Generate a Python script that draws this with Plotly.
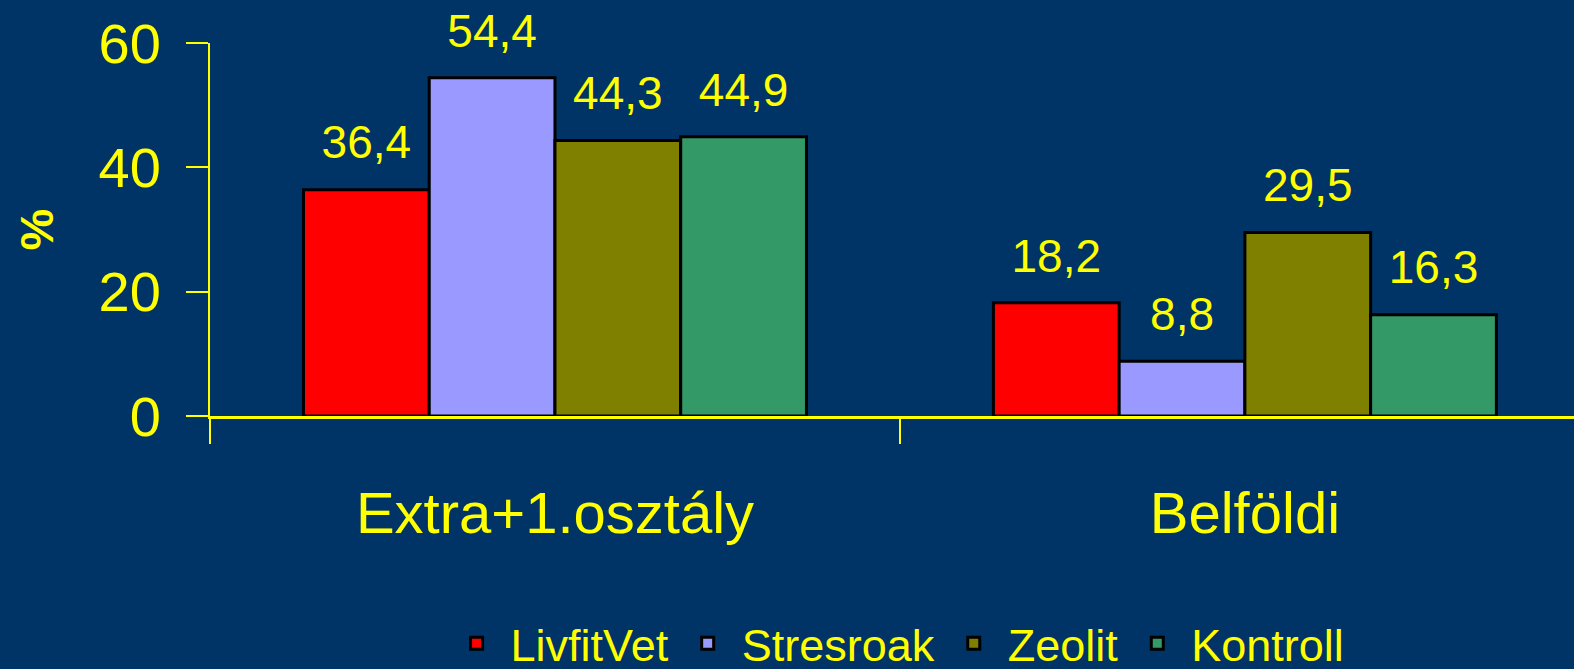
#!/usr/bin/python

import plotly
import plotly.graph_objects

categories = ["Extra+1.osztály", "Belföldi"]
seriesNames = ["LivfitVet", "Stresroak", "Zeolit", "Kontroll"]
livfitVet = [36.4, 18.2]
stresroak = [54.4, 8.8]
zeolit = [44.3, 29.5]
kontroll = [44.9, 16.3]
yTicks = [0, 20, 40, 60]

seriesValues = [livfitVet, stresroak, zeolit, kontroll]
seriesColors = ["#FF0000", "#9999FF", "#808000", "#339966"]

fontFamily = "Arial, Liberation Sans, sans-serif"
yellow = "#FFFF00"
navy = "#003366"
barGap = 0.271

def labelText(value:float)->str:
    # hungarian decimal comma
    return ("%.1f" % value).replace(".", ",")

def addBars(figure:plotly.graph_objects.Figure)->None:
    for name, values, color in zip(seriesNames, seriesValues, seriesColors):
        figure.add_bar(x=categories, y=values, name=name,
                       marker=dict(color=color, line=dict(color="black", width=3)),
                       hoverinfo="skip")

def addValueLabels(figure:plotly.graph_objects.Figure)->None:
    # scatter traces grouped like the bars, so the labels sit over each bar
    for name, values in zip(seriesNames, seriesValues):
        figure.add_scatter(x=categories, y=values, mode="markers+text",
                           text=[labelText(v) for v in values],
                           textposition="top center",
                           textfont=dict(family=fontFamily, size=46, color=yellow),
                           marker=dict(size=30, opacity=0),
                           cliponaxis=False, showlegend=False, hoverinfo="skip")

figure = plotly.graph_objects.Figure()
addBars(figure)
addValueLabels(figure)
figure.update_layout(
    width=1574, height=669,
    paper_bgcolor=navy, plot_bgcolor=navy,
    margin=dict(l=210, r=0, t=43, b=253, autoexpand=False),
    font=dict(family=fontFamily, color=yellow),
    barmode="group", bargap=barGap, bargroupgap=0,
    scattermode="group", scattergap=barGap,
    showlegend=True,
    legend=dict(orientation="h", x=0.503, xanchor="center", y=-0.61, yanchor="middle",
                font=dict(family=fontFamily, size=45, color=yellow),
                itemwidth=58, bgcolor="rgba(0,0,0,0)", traceorder="normal"),
)
figure.update_xaxes(
    # the second category runs a little past the right edge of the window
    range=[-0.5, 1.477],
    showline=True, linecolor=yellow, linewidth=2.5,
    ticks="outside", tickson="boundaries", ticklen=25, tickwidth=2, tickcolor=yellow,
    tickfont=dict(family=fontFamily, size=58, color=yellow),
    ticklabelstandoff=45, showgrid=False, zeroline=False,
)
figure.update_yaxes(
    range=[0, 60], tickvals=yTicks,
    showline=True, linecolor=yellow, linewidth=2,
    ticks="outside", ticklen=22, tickwidth=2, tickcolor=yellow,
    tickfont=dict(family=fontFamily, size=56, color=yellow),
    ticklabelstandoff=14, showgrid=False, zeroline=False,
    title=dict(text="<b>%</b>", font=dict(family=fontFamily, size=47, color=yellow), standoff=30),
)
# drop the page margin so the chart fills the window
figure.write_html("out.html", config={"displayModeBar": False},
                  post_script="document.body.style.margin = '0';")
